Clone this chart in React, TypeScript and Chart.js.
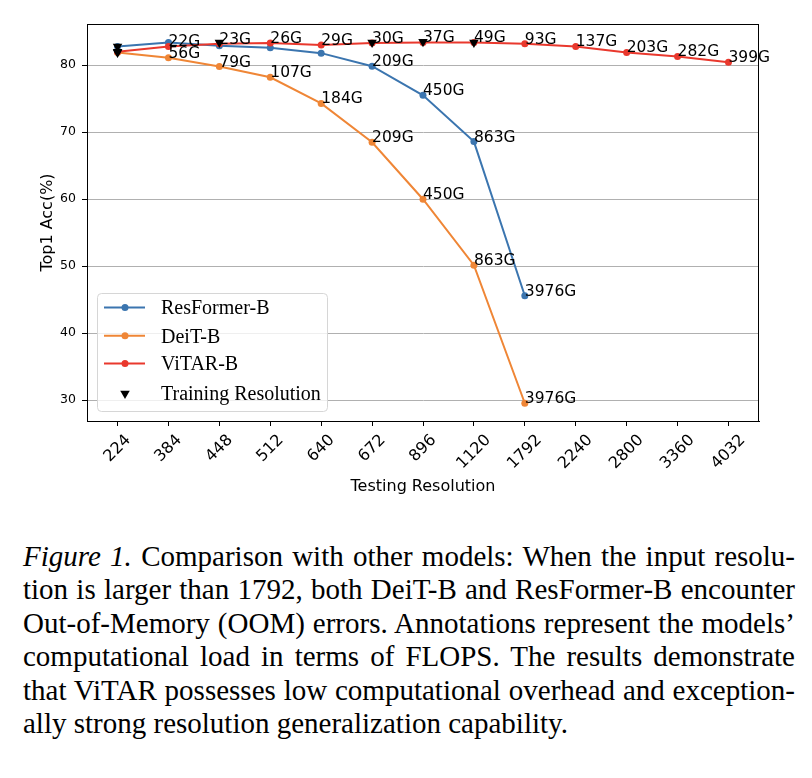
import React, { useEffect, useRef } from 'react';
import { Chart, registerables } from 'chart.js';

Chart.register(...registerables);

const categories = ['224', '384', '448', '512', '640', '672', '896', '1120', '1792', '2240', '2800', '3360', '4032'];
const resformerAcc: (number | null)[] = [82.8, 83.4, 82.9, 82.6, 81.8, 79.85, 75.5, 68.6, 45.6, null, null, null, null];
const deitAcc: (number | null)[] = [81.9, 81.1, 79.8, 78.2, 74.3, 68.5, 60.0, 50.15, 29.55, null, null, null, null];
const vitarAcc: (number | null)[] = [82.0, 82.8, 83.2, 83.3, 83.0, 83.3, 83.4, 83.4, 83.2, 82.8, 81.9, 81.3, 80.45];
const resformerFlops: (string | null)[] = [null, null, null, null, null, '209G', '450G', '863G', '3976G', null, null, null, null];
const deitFlops: (string | null)[] = [null, '56G', '79G', '107G', '184G', '209G', '450G', '863G', '3976G', null, null, null, null];
const vitarFlops: (string | null)[] = [null, '22G', '23G', '26G', '29G', '30G', '37G', '49G', '93G', '137G', '203G', '282G', '399G'];
const trainRes = ['224', '224', '224', '448', '672', '896', '1120'];
const trainAcc = [82.8, 81.9, 82.0, 83.4, 83.4, 83.5, 83.4];
const yTicks = [30, 40, 50, 60, 70, 80];
const seriesNames = ['ResFormer-B', 'DeiT-B', 'ViTAR-B', 'Training Resolution'];
const captionLines = [
  'Comparison with other models: When the input resolu-',
  'tion is larger than 1792, both DeiT-B and ResFormer-B encounter',
  'Out-of-Memory (OOM) errors. Annotations represent the models’',
  'computational load in terms of FLOPS. The results demonstrate',
  'that ViTAR possesses low computational overhead and exception-',
  'ally strong resolution generalization capability.',
];

const BLUE = '#3b75af';
const ORANGE = '#ef8636';
const RED = '#e9382d';
const DV = '"DejaVu Sans", sans-serif';

const toPoints = (vals: (number | null)[]) =>
  vals.map((v, i) => (v == null ? null : { x: i, y: v })).filter((p) => p !== null) as { x: number; y: number }[];

const flopsBySeries = [resformerFlops, deitFlops, vitarFlops];

const overlayPlugin = {
  id: 'overlay',
  afterDraw(chart: any) {
    const ctx = chart.ctx as CanvasRenderingContext2D;
    const area = chart.chartArea;
    const xs = chart.scales.x;
    ctx.save();
    // frame
    ctx.strokeStyle = '#000';
    ctx.lineWidth = 1;
    ctx.strokeRect(area.left + 0.5, area.top + 0.5, area.right - area.left - 1, area.bottom - area.top);

    // x tick labels, rotated 45, centered on tick
    ctx.fillStyle = '#000';
    ctx.font = `16px ${DV}`;
    ctx.textAlign = 'center';
    ctx.textBaseline = 'middle';
    const y0 = area.bottom + 10;
    const H = 16 * 1.17;
    categories.forEach((lab, i) => {
      const x = xs.getPixelForValue(i);
      const L = ctx.measureText(lab).width;
      const hr = (L + H) / Math.SQRT2;
      ctx.save();
      ctx.translate(x, y0 + hr / 2);
      ctx.rotate(-Math.PI / 4);
      ctx.fillText(lab, 0, 0);
      ctx.restore();
    });

    // annotations
    ctx.font = `15.5px ${DV}`;
    ctx.textAlign = 'left';
    ctx.textBaseline = 'alphabetic';
    flopsBySeries.forEach((flops, di) => {
      const meta = chart.getDatasetMeta(di);
      const pts = meta.data;
      const ds = chart.data.datasets[di].data as { x: number; y: number }[];
      ds.forEach((p, k) => {
        const t = flops[p.x];
        if (!t) return;
        const el = pts[k];
        ctx.fillText(t, el.x, el.y);
      });
    });

    // legend
    const lx = 97, ly = 293, lw = 230, lh = 118;
    ctx.beginPath();
    (ctx as any).roundRect(lx + 0.5, ly + 0.5, lw, lh, 4);
    ctx.fillStyle = 'rgba(255,255,255,0.8)';
    ctx.fill();
    ctx.strokeStyle = '#d6d6d6';
    ctx.lineWidth = 1;
    ctx.stroke();
    const rows = [307.5, 335.8, 363.5, 393.5];
    ctx.font = '20px "Liberation Serif", "Times New Roman", serif';
    ctx.textBaseline = 'middle';
    chart.data.datasets.forEach((ds: any, i: number) => {
      const ry = rows[i];
      if (i < 3) {
        ctx.strokeStyle = ds.borderColor;
        ctx.lineWidth = 2;
        ctx.beginPath();
        ctx.moveTo(104, ry);
        ctx.lineTo(145, ry);
        ctx.stroke();
        ctx.fillStyle = ds.borderColor;
        ctx.beginPath();
        ctx.arc(125, ry, 3.5, 0, Math.PI * 2);
        ctx.fill();
      } else {
        const r = 5.5;
        ctx.fillStyle = '#000';
        ctx.beginPath();
        ctx.moveTo(125, ry + r);
        ctx.lineTo(125 - r * 0.866, ry - r * 0.5);
        ctx.lineTo(125 + r * 0.866, ry - r * 0.5);
        ctx.closePath();
        ctx.fill();
      }
      ctx.fillStyle = '#000';
      ctx.fillText(ds.label, 161, ry + 1.5);
    });
    ctx.restore();
  },
};

function ChartView() {
  const ref = useRef<HTMLCanvasElement | null>(null);
  useEffect(() => {
    if (!ref.current) return;
    const lineDs = (label: string, vals: (number | null)[], color: string, order: number) => ({
      label,
      data: toPoints(vals),
      borderColor: color,
      backgroundColor: color,
      borderWidth: 2,
      pointRadius: 3.5,
      pointBackgroundColor: color,
      pointBorderWidth: 0,
      fill: false,
      tension: 0,
      order,
    });
    const chart = new Chart(ref.current, {
      type: 'line',
      data: {
        datasets: [
          lineDs(seriesNames[0], resformerAcc, BLUE, 4),
          lineDs(seriesNames[1], deitAcc, ORANGE, 3),
          lineDs(seriesNames[2], vitarAcc, RED, 2),
          {
            label: seriesNames[3],
            data: trainRes.map((r, i) => ({ x: categories.indexOf(r), y: trainAcc[i] })),
            showLine: false,
            pointStyle: 'triangle',
            pointRotation: 180,
            pointRadius: 5.5,
            pointBackgroundColor: '#000',
            pointBorderColor: '#000',
            pointBorderWidth: 0,
            borderColor: '#000',
            backgroundColor: '#000',
            order: 1,
          } as any,
        ],
      },
      options: {
        animation: false,
        responsive: false,
        maintainAspectRatio: false,
        events: [],
        layout: { padding: { top: 24, right: 53, left: 0, bottom: 0 } },
        plugins: { legend: { display: false }, tooltip: { enabled: false } },
        scales: {
          x: {
            type: 'linear',
            min: -0.6,
            max: categories.length - 1 + 0.6,
            afterBuildTicks: (s: any) => {
              s.ticks = categories.map((_, i) => ({ value: i }));
            },
            afterFit: (s: any) => {
              s.height = 94;
            },
            ticks: { display: false },
            grid: { drawOnChartArea: false, tickLength: 5, tickColor: '#000', tickWidth: 1 },
            border: { color: '#000', width: 1 },
            title: {
              display: true,
              text: 'Testing Resolution',
              color: '#000',
              font: { family: DV, size: 16 },
              padding: { top: 0, bottom: 19 },
            },
          },
          y: {
            type: 'linear',
            min: 26.9,
            max: 86.15,
            afterBuildTicks: (s: any) => {
              s.ticks = yTicks.map((v) => ({ value: v }));
            },
            afterFit: (s: any) => {
              s.width = 87;
            },
            ticks: { color: '#000', font: { family: DV, size: 12.5 }, padding: 6 },
            grid: { color: '#b0b0b0', lineWidth: 1, tickLength: 5, tickColor: '#000', tickWidth: 1 },
            border: { color: '#000', width: 1 },
            title: {
              display: true,
              text: 'Top1 Acc(%)',
              color: '#000',
              font: { family: DV, size: 16 },
              padding: { top: 38, bottom: 0 },
            },
          },
        },
      } as any,
      plugins: [overlayPlugin],
    });
    return () => chart.destroy();
  }, []);
  return <canvas ref={ref} width={812} height={515} style={{ display: 'block', width: 812, height: 515 }} />;
}

export default function App() {
  return (
    <div style={{ position: 'absolute', left: 0, top: 0, width: 812, height: 778, background: '#fff', overflow: 'hidden' }}>
      <ChartView />
      <div
        style={{
          position: 'absolute',
          left: 23,
          top: 539.5,
          width: 772,
          fontFamily: '"Liberation Serif", "Times New Roman", serif',
          fontSize: 29,
          lineHeight: '33.5px',
          color: '#000',
        }}
      >
        {captionLines.map((line, i) => (
          <div
            key={i}
            style={{
              whiteSpace: 'nowrap',
              textAlign: i < captionLines.length - 1 ? 'justify' : 'left',
              textAlignLast: i < captionLines.length - 1 ? 'justify' : 'left',
            }}
          >
            {i === 0 ? (
              <>
                <i>Figure 1.</i> {line}
              </>
            ) : (
              line
            )}
          </div>
        ))}
      </div>
    </div>
  );
}
